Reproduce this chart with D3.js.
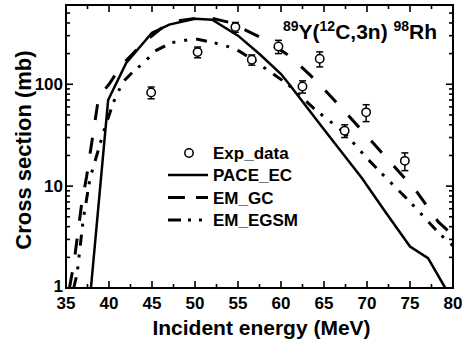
<!DOCTYPE html>
<html>
<head>
<meta charset="utf-8">
<script src="https://cdn.jsdelivr.net/npm/d3@7"></script>
<style>
  body { margin: 0; background: #fff; }
  svg { font-family: "Liberation Sans", Arial, sans-serif; font-weight: bold; }
</style>
</head>
<body>
<svg id="chart" width="462" height="345"></svg>
<script>
// experimental points
const expEnergy = [44.9, 50.3, 54.7, 56.6, 59.7, 62.5, 64.5, 67.4, 69.9, 74.4];
const expValue  = [83, 207, 364, 174, 235, 95, 178, 35, 53, 17.7];
const expError  = [11, 25, 40, 20, 35, 13, 30, 5, 10, 3.5];

// PACE_EC (solid)
const paceEnergy = [37.9, 39.9, 42, 45, 47, 50, 52, 55, 57.5, 60, 61, 65, 69.4, 72, 75, 77.1, 79.1];
const paceValue  = [1, 70, 162, 320, 385, 440, 430, 300, 198, 126, 99, 36, 12, 5.8, 2.55, 1.96, 1];

// EM_GC (dashed)
const gcEnergy = [35.4, 35.9, 36.8, 37.4, 38.8, 40, 41.5, 44, 46, 48, 50.5, 52, 54, 57.5, 61, 64, 67, 70, 72.9, 75.7, 78.3, 79.5];
const gcValue  = [1, 1.7, 6.5, 12.5, 75, 100, 155, 255, 350, 420, 450, 445, 405, 292, 190, 110, 59, 31, 16.5, 9, 4.45, 3.6];

// EM_EGSM (dash dot dot)
const egsmEnergy = [35.9, 36.3, 37, 37.8, 39.5, 40.5, 41.6, 42.8, 44.2, 45.3, 47.2, 49.2, 50.3, 52.2, 54.1, 55.2, 56.7, 58.7, 60.8, 64, 67.3, 70.2, 72, 75, 77, 78.6, 80];
const egsmValue  = [1, 1.4, 4.7, 12, 37, 66, 105, 133, 167, 211, 255, 273, 277, 256, 231, 210, 175, 133, 100, 56, 34, 18, 12.6, 7, 4.6, 3.3, 2.6];

const xTicks = [35, 40, 45, 50, 55, 60, 65, 70, 75, 80];
const yTicks = [1, 10, 100];

const svg = d3.select('#chart');
const mLeft = 66, mRight = 453, mTop = 5, mBottom = 288;

const x = d3.scaleLinear().domain([35, 80]).range([mLeft, mRight]);
const y = d3.scaleLog().domain([1, 600]).range([mBottom, mTop]);

// clip for curves
svg.append('clipPath').attr('id', 'clip')
  .append('rect').attr('x', mLeft).attr('y', mTop)
  .attr('width', mRight - mLeft).attr('height', mBottom - mTop);

// minor ticks lists
let xMinor = d3.range(37.5, 80, 5);
let yMinor = [];
[1, 10, 100].forEach(d => {
  for (let k = 2; k <= 9; k++) if (d * k <= 600) yMinor.push(d * k);
});

// ticks, all pointing inside, on four sides
const tickG = svg.append('g').attr('stroke', '#000').attr('stroke-width', 1.6);
xTicks.forEach(t => {
  tickG.append('line').attr('x1', x(t)).attr('x2', x(t)).attr('y1', mBottom).attr('y2', mBottom - 7);
  tickG.append('line').attr('x1', x(t)).attr('x2', x(t)).attr('y1', mTop).attr('y2', mTop + 7);
});
xMinor.forEach(t => {
  tickG.append('line').attr('x1', x(t)).attr('x2', x(t)).attr('y1', mBottom).attr('y2', mBottom - 4);
  tickG.append('line').attr('x1', x(t)).attr('x2', x(t)).attr('y1', mTop).attr('y2', mTop + 4);
});
yTicks.forEach(t => {
  tickG.append('line').attr('x1', mLeft).attr('x2', mLeft + 7).attr('y1', y(t)).attr('y2', y(t));
  tickG.append('line').attr('x1', mRight).attr('x2', mRight - 7).attr('y1', y(t)).attr('y2', y(t));
});
yMinor.forEach(t => {
  tickG.append('line').attr('x1', mLeft).attr('x2', mLeft + 4).attr('y1', y(t)).attr('y2', y(t));
  tickG.append('line').attr('x1', mRight).attr('x2', mRight - 4).attr('y1', y(t)).attr('y2', y(t));
});

// tick labels
svg.append('g').selectAll('text').data(xTicks).join('text')
  .attr('x', d => x(d)).attr('y', 309)
  .attr('text-anchor', 'middle').attr('font-size', 17)
  .text(d => d);
svg.append('g').selectAll('text').data(yTicks).join('text')
  .attr('x', 63).attr('y', d => y(d) + (d === 1 ? 4 : 6))
  .attr('text-anchor', 'end').attr('font-size', 17)
  .text(d => d);

// curves
const line = (xs, ys) => d3.line().x((d, i) => x(xs[i])).y((d, i) => y(ys[i]))(xs);
const curves = svg.append('g').attr('clip-path', 'url(#clip)').attr('fill', 'none').attr('stroke', '#000');
curves.append('path').attr('d', line(paceEnergy, paceValue)).attr('stroke-width', 2.5);
curves.append('path').attr('d', line(gcEnergy, gcValue)).attr('stroke-width', 3)
  .attr('stroke-dasharray', '16,18');
curves.append('path').attr('d', line(egsmEnergy, egsmValue)).attr('stroke-width', 3)
  .attr('stroke-dasharray', '11,8,3,9,3,9');

// experimental points with error bars
const pts = svg.append('g').attr('stroke', '#000').attr('stroke-width', 1.5);
expEnergy.forEach((e, i) => {
  const cx = x(e);
  const y1 = y(expValue[i] - expError[i]), y2 = y(expValue[i] + expError[i]);
  pts.append('line').attr('x1', cx).attr('x2', cx).attr('y1', y1).attr('y2', y2);
  pts.append('line').attr('x1', cx - 3.5).attr('x2', cx + 3.5).attr('y1', y1).attr('y2', y1);
  pts.append('line').attr('x1', cx - 3.5).attr('x2', cx + 3.5).attr('y1', y2).attr('y2', y2);
  pts.append('circle').attr('cx', cx).attr('cy', y(expValue[i])).attr('r', 4.2).attr('fill', '#fff');
});

// frame
svg.append('rect').attr('x', mLeft).attr('y', mTop)
  .attr('width', mRight - mLeft).attr('height', mBottom - mTop)
  .attr('fill', 'none').attr('stroke', '#000').attr('stroke-width', 2);

// legend
const leg = svg.append('g');
leg.append('circle').attr('cx', 189).attr('cy', 153).attr('r', 4.2)
  .attr('fill', '#fff').attr('stroke', '#000').attr('stroke-width', 1.5);
const legItems = [
  { label: 'PACE_EC', dash: null, w: 2.5 },
  { label: 'EM_GC', dash: '17,11', w: 3 },
  { label: 'EM_EGSM', dash: '13,7,3,8,3,8', w: 3 }
];
leg.append('text').attr('x', 213).attr('y', 159).attr('font-size', 17).text('Exp_data');
legItems.forEach((d, i) => {
  const ly = 175 + i * 22.5;
  const l = leg.append('line').attr('x1', 168).attr('x2', 208).attr('y1', ly).attr('y2', ly)
    .attr('stroke', '#000').attr('stroke-width', d.w);
  if (d.dash) l.attr('stroke-dasharray', d.dash);
  leg.append('text').attr('x', 213).attr('y', ly + 6).attr('font-size', 17).text(d.label);
});

// reaction title
const title = svg.append('text').attr('x', 283).attr('y', 39).attr('font-size', 21);
title.append('tspan').attr('font-size', 14).attr('dy', -8).text('89');
title.append('tspan').attr('dy', 8).text('Y(');
title.append('tspan').attr('font-size', 14).attr('dy', -8).text('12');
title.append('tspan').attr('dy', 8).text('C,3n) ');
title.append('tspan').attr('font-size', 14).attr('dy', -8).text('98');
title.append('tspan').attr('dy', 8).text('Rh');

// axis titles
svg.append('text').attr('x', (mLeft + mRight) / 2 + 2).attr('y', 335)
  .attr('text-anchor', 'middle').attr('font-size', 21).text('Incident energy (MeV)');
svg.append('text').attr('transform', 'translate(31,150) rotate(-90)')
  .attr('text-anchor', 'middle').attr('font-size', 22).text('Cross section (mb)');
</script>
</body>
</html>
